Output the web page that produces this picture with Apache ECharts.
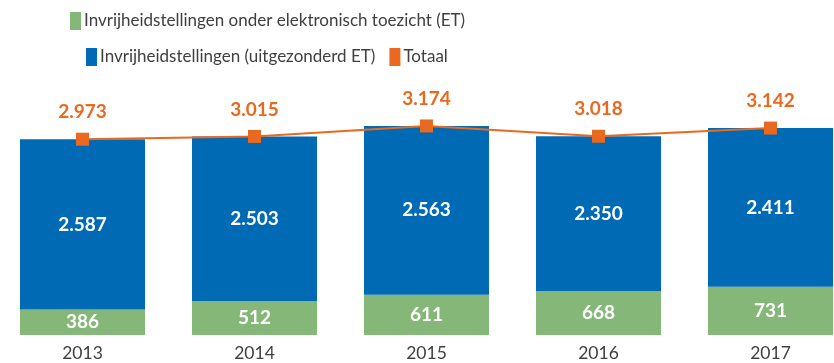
<!DOCTYPE html>
<html>
<head>
<meta charset="utf-8">
<style>
  html, body { margin: 0; padding: 0; background: #fff; }
  #chart { width: 834px; height: 363px; }
</style>
<script src="https://cdn.jsdelivr.net/npm/echarts@6/dist/echarts.min.js"></script>
</head>
<body>
<div id="chart"></div>
<script>
const years = ['2013', '2014', '2015', '2016', '2017'];
const metET = [386, 512, 611, 668, 731];
const zonderET = [2587, 2503, 2563, 2350, 2411];
const totaal = [2973, 3015, 3174, 3018, 3142];

const nameET = 'Invrijheidstellingen onder elektronisch toezicht (ET)';
const nameZonder = 'Invrijheidstellingen (uitgezonderd ET)';
const nameTotaal = 'Totaal';

const FONT = 'Lato, "Noto Sans", sans-serif';
const GREEN = '#85b878';
const BLUE = '#006ab4';
const ORANGE = '#e8691f';
const GREY = '#404040';

// Dutch thousands separator
const fmt = v => v.toLocaleString('nl-NL');

const chart = echarts.init(document.getElementById('chart'));

const legendBase = {
  icon: 'rect',
  padding: 0,
  itemWidth: 11,
  itemHeight: 18,
  itemGap: 14,
  textStyle: { fontFamily: FONT, fontSize: 17, color: GREY, padding: [0, 0, 0, -2] }
};

const valueLabel = {
  show: true, position: 'inside', color: '#fff', fontWeight: 'bold',
  fontSize: 19, fontFamily: FONT, formatter: p => fmt(p.value)
};

chart.setOption({
  animation: false,
  textStyle: { fontFamily: FONT },
  legend: [
    Object.assign({}, legendBase, { left: 70, top: 12, data: [nameET] }),
    Object.assign({}, legendBase, { left: 86, top: 48, data: [nameZonder, nameTotaal] })
  ],
  grid: { left: -3.5, width: 860, top: 104.5, height: 230.5, outerBoundsMode: 'none' },
  xAxis: {
    type: 'category',
    data: years,
    axisLine: { show: false },
    axisTick: { show: false },
    axisLabel: { fontFamily: FONT, fontSize: 17.5, color: GREY, margin: 9 }
  },
  yAxis: {
    type: 'value',
    min: 0,
    max: 3500,
    show: false,
    splitLine: { show: false }
  },
  series: [
    {
      name: nameET,
      type: 'bar',
      stack: 'total',
      barWidth: 125,
      data: metET,
      itemStyle: { color: GREEN },
      label: valueLabel
    },
    {
      name: nameZonder,
      type: 'bar',
      stack: 'total',
      barWidth: 125,
      data: zonderET,
      itemStyle: { color: BLUE },
      label: valueLabel
    },
    {
      name: nameTotaal,
      type: 'line',
      data: totaal,
      symbol: 'rect',
      symbolSize: 13,
      lineStyle: { color: ORANGE, width: 2 },
      itemStyle: { color: ORANGE },
      z: 5,
      label: {
        show: true, position: 'top', distance: 11, color: ORANGE, fontWeight: 'bold',
        fontSize: 19, fontFamily: FONT, formatter: p => fmt(p.value)
      }
    }
  ]
});
</script>
</body>
</html>
